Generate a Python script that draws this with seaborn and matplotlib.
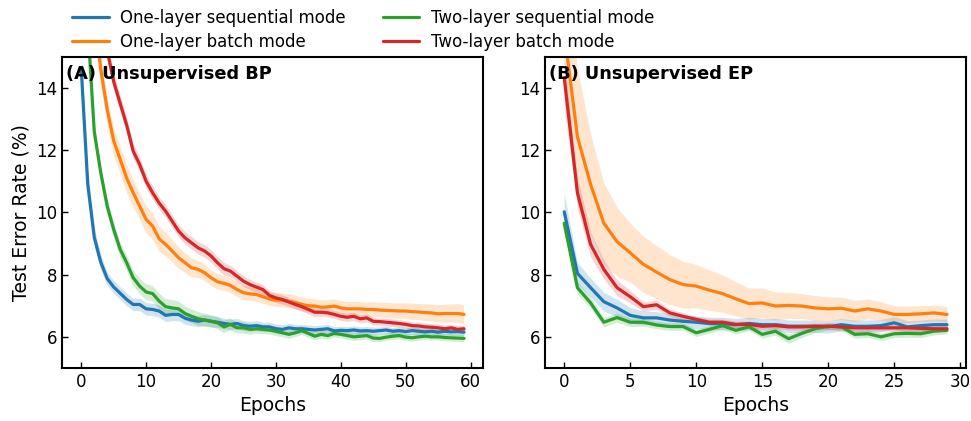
import numpy as np
import pandas as pd
import matplotlib
matplotlib.use("Agg")
import matplotlib.pyplot as plt
import seaborn as sns

# ---- data (mean test error %, and band half-width) ----
labels = ["One-layer sequential mode", "One-layer batch mode",
          "Two-layer sequential mode", "Two-layer batch mode"]
colors = ["#1f77b4", "#ff7f0e", "#2ca02c", "#d62728"]

epochs_bp = np.arange(60)
epochs_ep = np.arange(30)

# Panel A: Unsupervised BP
bp_one_seq = [14.6, 10.9, 9.2, 8.4, 7.87, 7.6, 7.4, 7.2, 7.04, 7.04,
              6.9, 6.88, 6.83, 6.69, 6.72, 6.72, 6.6, 6.54, 6.5, 6.54,
              6.5, 6.47, 6.43, 6.4, 6.43, 6.36, 6.34, 6.36, 6.32, 6.32,
              6.26, 6.24, 6.29, 6.26, 6.26, 6.24, 6.22, 6.24, 6.26, 6.19,
              6.21, 6.2, 6.22, 6.19, 6.2, 6.18, 6.2, 6.22, 6.18, 6.2,
              6.17, 6.2, 6.18, 6.16, 6.18, 6.15, 6.18, 6.16, 6.17, 6.15]
bp_one_batch = [22.0, 19.0, 16.5, 14.6, 13.3, 12.3, 11.7, 11.1, 10.63, 10.2,
                9.77, 9.56, 9.15, 8.97, 8.76, 8.54, 8.38, 8.22, 8.17, 8.06,
                7.9, 7.77, 7.72, 7.65, 7.52, 7.42, 7.38, 7.36, 7.29, 7.22,
                7.18, 7.18, 7.14, 7.1, 7.04, 7.0, 6.99, 6.95, 6.96, 6.99,
                6.93, 6.9, 6.9, 6.9, 6.88, 6.88, 6.86, 6.85, 6.84, 6.83,
                6.83, 6.81, 6.8, 6.78, 6.77, 6.74, 6.75, 6.75, 6.75, 6.72]
bp_two_seq = [20.0, 16.0, 12.6, 11.28, 10.2, 9.45, 8.81, 8.38, 7.9, 7.63,
              7.44, 7.39, 7.15, 6.97, 6.93, 6.9, 6.75, 6.66, 6.58, 6.54,
              6.5, 6.45, 6.32, 6.4, 6.29, 6.29, 6.24, 6.26, 6.24, 6.22,
              6.18, 6.13, 6.08, 6.13, 6.2, 6.11, 6.02, 6.08, 6.04, 6.11,
              6.08, 6.04, 6.0, 6.02, 6.04, 5.96, 5.95, 5.99, 6.02, 6.04,
              5.99, 5.97, 6.0, 6.02, 6.0, 6.0, 5.98, 5.97, 5.96, 5.95]
bp_two_batch = [19.0, 18.2, 17.0, 15.6, 15.2, 14.2, 13.5, 12.8, 11.97, 11.54,
                11.0, 10.63, 10.3, 10.04, 9.72, 9.4, 9.18, 9.02, 8.86, 8.76,
                8.6, 8.38, 8.19, 8.11, 7.95, 7.79, 7.68, 7.6, 7.52, 7.33,
                7.25, 7.2, 7.12, 7.04, 6.97, 6.88, 6.79, 6.79, 6.77, 6.72,
                6.66, 6.63, 6.66, 6.58, 6.61, 6.5, 6.49, 6.47, 6.45, 6.43,
                6.4, 6.36, 6.35, 6.32, 6.31, 6.29, 6.26, 6.29, 6.24, 6.26]

bp_one_seq_sd = [0.6, 0.4, 0.3, 0.25, 0.22, 0.2, 0.2, 0.2, 0.2, 0.2,
                 0.2, 0.2, 0.2, 0.2, 0.2, 0.2, 0.2, 0.18, 0.18, 0.18,
                 0.18, 0.17, 0.17, 0.17, 0.16, 0.16, 0.16, 0.16, 0.15, 0.15,
                 0.15, 0.15, 0.15, 0.14, 0.14, 0.14, 0.14, 0.14, 0.14, 0.13,
                 0.13, 0.13, 0.13, 0.13, 0.13, 0.13, 0.12, 0.12, 0.12, 0.12,
                 0.12, 0.12, 0.12, 0.12, 0.12, 0.12, 0.12, 0.12, 0.12, 0.12]
bp_one_batch_sd = [0.5, 0.5, 0.5, 0.5, 0.45, 0.45, 0.45, 0.45, 0.45, 0.43,
                   0.43, 0.42, 0.4, 0.38, 0.36, 0.34, 0.32, 0.3, 0.28, 0.26,
                   0.25, 0.25, 0.24, 0.24, 0.23, 0.23, 0.22, 0.22, 0.22, 0.22,
                   0.22, 0.22, 0.22, 0.22, 0.22, 0.22, 0.22, 0.22, 0.22, 0.22,
                   0.22, 0.22, 0.22, 0.22, 0.22, 0.23, 0.23, 0.24, 0.24, 0.25,
                   0.25, 0.26, 0.26, 0.27, 0.27, 0.28, 0.28, 0.29, 0.3, 0.3]
bp_two_seq_sd = [0.5, 0.4, 0.3, 0.28, 0.26, 0.25, 0.25, 0.25, 0.25, 0.25,
                 0.25, 0.25, 0.25, 0.25, 0.25, 0.24, 0.23, 0.22, 0.22, 0.21,
                 0.2, 0.2, 0.2, 0.19, 0.18, 0.18, 0.17, 0.16, 0.15, 0.15,
                 0.15, 0.14, 0.14, 0.14, 0.14, 0.14, 0.13, 0.13, 0.13, 0.13,
                 0.13, 0.13, 0.13, 0.13, 0.13, 0.12, 0.12, 0.12, 0.12, 0.12,
                 0.12, 0.12, 0.12, 0.12, 0.12, 0.12, 0.12, 0.12, 0.12, 0.12]
bp_two_batch_sd = [0.3, 0.3, 0.3, 0.3, 0.3, 0.28, 0.26, 0.25, 0.24, 0.23,
                   0.22, 0.22, 0.2, 0.2, 0.2, 0.2, 0.2, 0.2, 0.2, 0.2,
                   0.2, 0.2, 0.2, 0.18, 0.18, 0.17, 0.17, 0.16, 0.16, 0.15,
                   0.15, 0.15, 0.14, 0.14, 0.14, 0.14, 0.14, 0.13, 0.13, 0.13,
                   0.13, 0.13, 0.13, 0.13, 0.13, 0.12, 0.12, 0.12, 0.12, 0.12,
                   0.12, 0.12, 0.12, 0.12, 0.12, 0.12, 0.12, 0.12, 0.12, 0.12]

# Panel B: Unsupervised EP
ep_one_seq = [10.02, 8.04, 7.58, 7.13, 6.93, 6.69, 6.61, 6.61, 6.54, 6.5,
              6.47, 6.43, 6.43, 6.39, 6.43, 6.39, 6.39, 6.34, 6.34, 6.34,
              6.32, 6.39, 6.34, 6.34, 6.36, 6.45, 6.32, 6.36, 6.39, 6.39]
ep_one_batch = [15.8, 12.43, 10.9, 9.65, 9.06, 8.7, 8.33, 8.08, 7.84, 7.68,
                7.63, 7.5, 7.39, 7.22, 7.07, 7.09, 6.99, 7.01, 6.99, 6.93,
                6.9, 6.92, 6.83, 6.9, 6.83, 6.72, 6.72, 6.74, 6.77, 6.72]
ep_two_seq = [9.65, 7.58, 7.09, 6.47, 6.62, 6.47, 6.47, 6.38, 6.33, 6.33,
              6.13, 6.24, 6.36, 6.21, 6.32, 6.08, 6.18, 5.94, 6.11, 6.26,
              6.34, 6.32, 6.08, 6.1, 6.0, 6.1, 6.11, 6.1, 6.18, 6.21]
ep_two_batch = [14.33, 10.63, 8.97, 8.17, 7.58, 7.29, 6.97, 7.03, 6.77, 6.66,
                6.56, 6.47, 6.47, 6.4, 6.4, 6.34, 6.36, 6.32, 6.32, 6.34,
                6.34, 6.32, 6.29, 6.29, 6.29, 6.29, 6.29, 6.27, 6.26, 6.26]

ep_one_seq_sd = [0.6, 0.35, 0.3, 0.3, 0.28, 0.25, 0.22, 0.2, 0.2, 0.2,
                 0.2, 0.2, 0.2, 0.2, 0.2, 0.2, 0.2, 0.2, 0.2, 0.2,
                 0.2, 0.2, 0.2, 0.2, 0.2, 0.2, 0.2, 0.18, 0.18, 0.18]
ep_one_batch_sd = [2.5, 2.2, 1.6, 1.3, 1.1, 0.95, 0.9, 0.85, 0.8, 0.75,
                   0.7, 0.65, 0.6, 0.55, 0.5, 0.48, 0.45, 0.42, 0.4, 0.4,
                   0.38, 0.36, 0.34, 0.32, 0.3, 0.28, 0.27, 0.26, 0.25, 0.25]
ep_two_seq_sd = [0.3, 0.2, 0.18, 0.15, 0.15, 0.14, 0.13, 0.12, 0.12, 0.12,
                 0.12, 0.12, 0.12, 0.12, 0.12, 0.12, 0.13, 0.15, 0.13, 0.12,
                 0.12, 0.12, 0.12, 0.12, 0.12, 0.12, 0.12, 0.12, 0.12, 0.12]
ep_two_batch_sd = [0.6, 0.5, 0.4, 0.3, 0.25, 0.2, 0.15, 0.15, 0.12, 0.12,
                   0.1, 0.1, 0.1, 0.1, 0.1, 0.1, 0.1, 0.1, 0.1, 0.1,
                   0.1, 0.1, 0.1, 0.1, 0.1, 0.1, 0.1, 0.1, 0.1, 0.1]

# ---- style ----
sns.set_style("white")
plt.rcParams["font.family"] = ["DejaVu Sans"]
plt.rcParams.update({
    "font.size": 12,
    "text.color": "black",
    "axes.labelcolor": "black",
    "xtick.color": "black",
    "ytick.color": "black",
    "xtick.direction": "in",
    "ytick.direction": "in",
    "xtick.major.size": 4,
    "ytick.major.size": 4,
    "xtick.bottom": True,
    "ytick.left": True,
    "axes.edgecolor": "black",
    "axes.linewidth": 1.5,
})

fig, axes = plt.subplots(1, 2, figsize=(9.71, 4.21), dpi=100)
fig.subplots_adjust(left=0.064, right=0.995, bottom=0.126, top=0.865, wspace=0.147)


def draw_panel(ax, epochs, means, sds, title):
    for lab, col, m, s in zip(labels, colors, means, sds):
        m = np.asarray(m)
        s = np.asarray(s)
        df = pd.DataFrame({"epoch": epochs, "err": m})
        sns.lineplot(data=df, x="epoch", y="err", ax=ax, color=col,
                     linewidth=2.3, label=lab)
        ax.fill_between(epochs, m - s, m + s, color=col, alpha=0.2, linewidth=0)
    ax.set_ylim(5, 15)
    ax.set_yticks([6, 8, 10, 12, 14])
    ax.set_xlabel("Epochs", fontsize=13.5)
    ax.set_ylabel("")
    ax.tick_params(labelsize=12, width=1)
    ax.text(0.01, 0.975, title, transform=ax.transAxes, ha="left", va="top",
            fontsize=12.8, fontweight="bold")
    ax.get_legend().remove()


draw_panel(axes[0], epochs_bp,
           [bp_one_seq, bp_one_batch, bp_two_seq, bp_two_batch],
           [bp_one_seq_sd, bp_one_batch_sd, bp_two_seq_sd, bp_two_batch_sd],
           "(A) Unsupervised BP")
axes[0].set_xticks([0, 10, 20, 30, 40, 50, 60])
axes[0].set_ylabel("Test Error Rate (%)", fontsize=13.5)

draw_panel(axes[1], epochs_ep,
           [ep_one_seq, ep_one_batch, ep_two_seq, ep_two_batch],
           [ep_one_seq_sd, ep_one_batch_sd, ep_two_seq_sd, ep_two_batch_sd],
           "(B) Unsupervised EP")
axes[1].set_xticks([0, 5, 10, 15, 20, 25, 30])

handles = [plt.Line2D([], [], color=c, linewidth=2.3) for c in colors]
fig.legend(handles, labels, loc="upper center", bbox_to_anchor=(0.374, 1.015),
           ncol=2, frameon=False, fontsize=12, handlelength=2.2,
           handletextpad=0.7, columnspacing=2.2, labelspacing=0.35)

fig.savefig("out.png", dpi=100)
